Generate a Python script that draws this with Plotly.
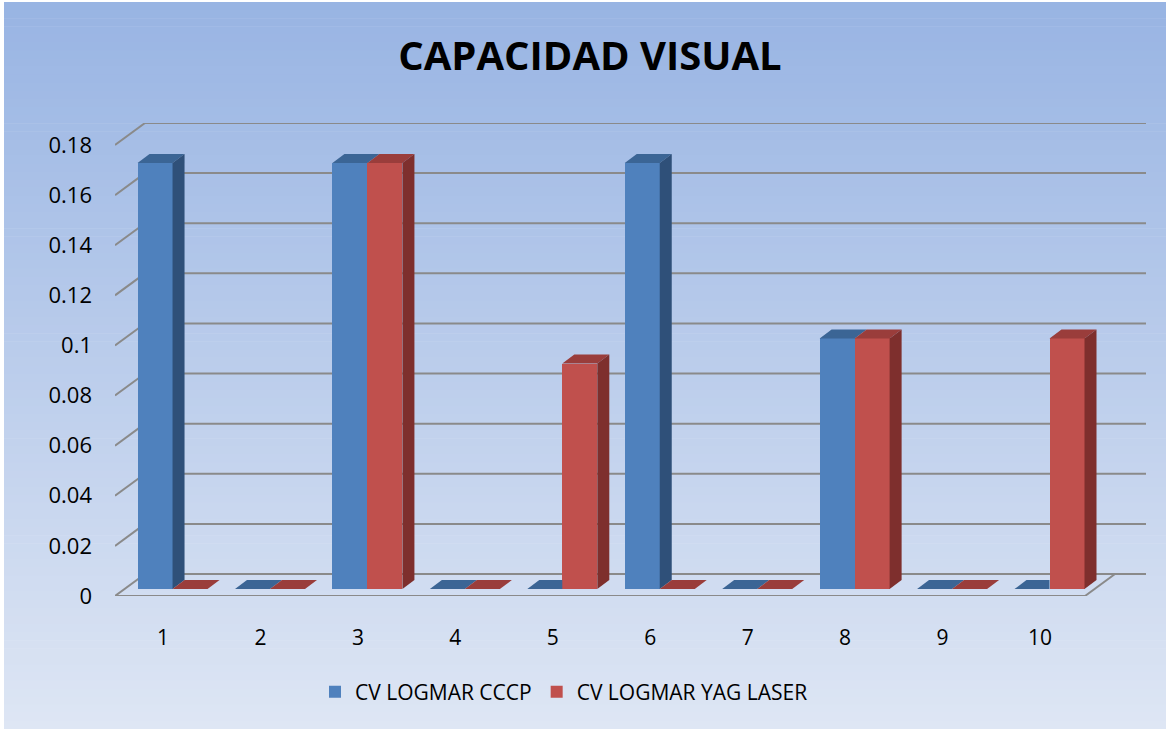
import plotly.graph_objects as go

# ---- data ----
categories = [1, 2, 3, 4, 5, 6, 7, 8, 9, 10]
cv_cccp = [0.17, 0, 0.17, 0, 0, 0.17, 0, 0.10, 0, 0]
cv_yag = [0, 0, 0.17, 0, 0.09, 0, 0, 0.10, 0, 0.10]
series_names = ["CV LOGMAR CCCP", "CV LOGMAR YAG LASER"]
y_ticks = [0, 0.02, 0.04, 0.06, 0.08, 0.1, 0.12, 0.14, 0.16, 0.18]
y_tick_text = ["0", "0.02", "0.04", "0.06", "0.08", "0.1", "0.12", "0.14", "0.16", "0.18"]

# ---- geometry (pseudo-3D) ----
W, H = 1166, 729
L, R, T, B = 115, 1146, 123, 596
px_per_x = 97.44
px_per_y = 2505.0
x0 = 0.507
x1 = x0 + (R - L) / px_per_x
DX, DY = 30 / px_per_x, 22 / px_per_y          # wall depth
y1 = 0.18 + DY
floor_l, floor_r = x0, x0 + 970 / px_per_x
bar_w = 35 / px_per_x
off_x, base = 9.5 / px_per_x, 7 / px_per_y      # bar front offset
ddx, ddy = 12 / px_per_x, 9 / px_per_y          # bar depth

blue, blue_side, blue_top = "#4F81BD", "#2F5079", "#3B6595"
red, red_side, red_top = "#C0504D", "#7E2F2D", "#9A3D3B"
grid_col = "#8A8A8A"

fig = go.Figure()

# front faces (real bars)
fig.add_trace(go.Bar(x=[c + off_x - bar_w / 2 for c in categories], y=cv_cccp, base=base,
                     width=bar_w, name=series_names[0], marker=dict(color=blue, line=dict(width=0))))
fig.add_trace(go.Bar(x=[c + off_x + bar_w / 2 for c in categories], y=cv_yag, base=base,
                     width=bar_w, name=series_names[1], marker=dict(color=red, line=dict(width=0))))


def poly(xs, ys, color):
    fig.add_trace(go.Scatter(x=xs + [xs[0]], y=ys + [ys[0]], mode="lines", fill="toself",
                             fillcolor=color, line=dict(width=0, color=color),
                             showlegend=False, hoverinfo="skip"))


for c, v1, v2 in zip(categories, cv_cccp, cv_yag):
    bl = c + off_x - bar_w
    br = c + off_x
    rr = br + bar_w
    # blue top face
    if v2 > v1:
        poly([bl, br, br, bl + ddx], [v1 + base, v1 + base, v1 + base + ddy, v1 + base + ddy], blue_top)
    else:
        poly([bl, br, br + ddx, bl + ddx], [v1 + base, v1 + base, v1 + base + ddy, v1 + base + ddy], blue_top)
    # blue side face (visible part)
    if v1 > v2:
        poly([br, br, br + ddx, br + ddx], [v2 + base, v1 + base, v1 + base + ddy, v2 + base + ddy], blue_side)
    # red top face
    poly([br, rr, rr + ddx, br + ddx], [v2 + base, v2 + base, v2 + base + ddy, v2 + base + ddy], red_top)
    # red side
    if v2 > 0:
        poly([rr, rr, rr + ddx, rr + ddx], [base, v2 + base, v2 + base + ddy, base + ddy], red_side)

shapes = []
# background gradient bands (paper coords)
top_rgb = (0x98, 0xB4, 0xE3)
bot_rgb = (0xDE, 0xE6, 0xF4)
n = 90
def py2paper(p):
    return (B - p) / (B - T)
def px2paper(p):
    return (p - L) / (R - L)
for k in range(n):
    p0 = 2 + (H - 2) * k / n
    p1 = 2 + (H - 2) * (k + 1) / n + 0.6
    t = (k + 0.5) / n
    col = "rgb(%d,%d,%d)" % tuple(round(a + (b - a) * t) for a, b in zip(top_rgb, bot_rgb))
    shapes.append(dict(type="rect", xref="paper", yref="paper", layer="below",
                       x0=px2paper(4), x1=px2paper(W), y0=py2paper(p1), y1=py2paper(p0),
                       fillcolor=col, line=dict(width=0)))

# back-wall gridlines + diagonal ticks
for v in y_ticks:
    shapes.append(dict(type="line", xref="x", yref="y", layer="below",
                       x0=floor_l + DX, x1=x1, y0=v + DY, y1=v + DY,
                       line=dict(color=grid_col, width=2)))
    shapes.append(dict(type="line", xref="x", yref="y", layer="below",
                       x0=floor_l, x1=floor_l + DX, y0=v, y1=v + DY,
                       line=dict(color=grid_col, width=2)))
# floor front edge and right diagonal
shapes.append(dict(type="line", xref="x", yref="y", layer="below",
                   x0=floor_l, x1=floor_r, y0=0, y1=0, line=dict(color=grid_col, width=2)))
shapes.append(dict(type="line", xref="x", yref="y", layer="below",
                   x0=floor_r, x1=floor_r + DX, y0=0, y1=DY, line=dict(color=grid_col, width=2)))

font = "Open Sans"
fig.update_layout(
    width=W, height=H,
    margin=dict(l=L, r=W - R, t=T, b=H - B),
    paper_bgcolor="white", plot_bgcolor="rgba(0,0,0,0)",
    barmode="overlay", bargap=0,
    shapes=shapes,
    title=dict(text="<b>CAPACIDAD VISUAL</b>", x=590 / W, xanchor="center", xref="container",
               y=1 - 56 / H, yanchor="middle", yref="container",
               font=dict(family=font, size=40, color="black")),
    xaxis=dict(range=[x0, x1], tickvals=categories, ticktext=[str(c) for c in categories],
               showgrid=False, zeroline=False, showline=False, ticks="",
               ticklabelstandoff=27, tickfont=dict(family=font, size=21, color="black")),
    yaxis=dict(range=[0, y1], tickvals=y_ticks, ticktext=y_tick_text,
               showgrid=False, zeroline=False, showline=False, ticks="",
               ticklabelstandoff=22, tickfont=dict(family=font, size=22, color="black")),
    legend=dict(orientation="h", x=px2paper(564), xanchor="center", y=py2paper(692), yanchor="middle",
                font=dict(family=font, size=21, color="black"), bgcolor="rgba(0,0,0,0)",
                itemwidth=30, tracegroupgap=0),
    showlegend=True,
)

fig.write_html("out.html", config={"displayModeBar": False},
               post_script="document.body.style.margin='0';document.body.style.padding='0';")
